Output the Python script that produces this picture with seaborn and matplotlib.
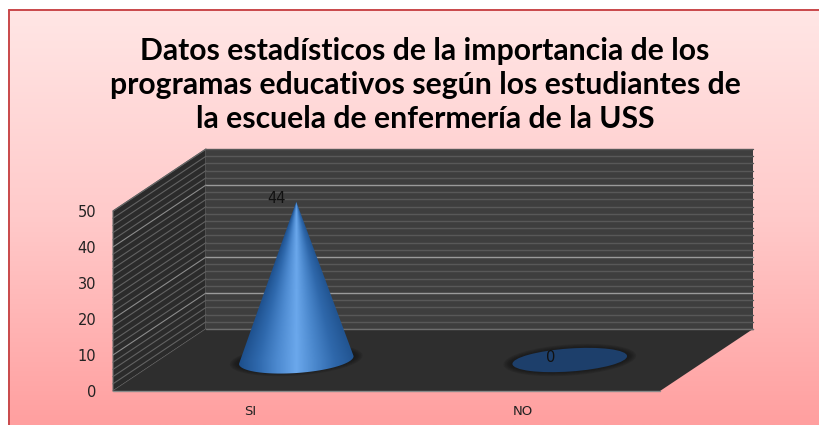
import numpy as np
import pandas as pd
import seaborn as sns
import matplotlib.pyplot as plt
from matplotlib.colors import LinearSegmentedColormap
from matplotlib.patches import Ellipse, Polygon

categorias = ["SI", "NO"]
valores = [44, 0]
ticks_y = [0, 10, 20, 30, 40, 50]
titulo = ("Datos estadísticos de la importancia de los\n"
          "programas educativos según los estudiantes de\n"
          "la escuela de enfermería de la USS")

W, H = 820, 425
# desplazamiento de profundidad del piso en pixeles
DX, DY = 93, 62

sns.set_style("white")
plt.rcParams['font.family'] = ['DejaVu Sans']

fig = plt.figure(figsize=(W / 100, H / 100), dpi=100, facecolor='white')

# capa de fondo en pixeles
bg = fig.add_axes([0, 0, 1, 1])
bg.set_xlim(0, W)
bg.set_ylim(H, 0)
bg.axis('off')

fondo = LinearSegmentedColormap.from_list("fondo", ["#ffe6e5", "#ffcaca", "#ff9f9f"])
bg.imshow(np.linspace(0, 1, 256).reshape(-1, 1), cmap=fondo, aspect='auto',
          extent=(10, W, H, 10), zorder=0)
bg.set_xlim(0, W)
bg.set_ylim(H, 0)
bg.plot([9.5, 9.5], [H, 10], color="#c9474a", lw=1.4, zorder=1)
bg.plot([9.5, W], [10, 10], color="#c9474a", lw=1.4, zorder=1)

# ejes del plano frontal
ax = fig.add_axes([113 / W, (H - 391) / H, 547 / W, 180 / H])
df = pd.DataFrame({"categoria": categorias, "valor": valores})
sns.barplot(data=df, x="categoria", y="valor", ax=ax, width=0.42, color="#3a76bd")
ax.set_xlim(-0.5, 1.5)
ax.set_ylim(0, 50)
ax.set_yticks(ticks_y)
ax.patch.set_alpha(0)
ax.set_xlabel("")
ax.set_ylabel("")
sns.despine(ax=ax, left=True, bottom=True)
ax.tick_params(axis='y', length=0, pad=12, labelsize=10.5, labelcolor="#222222")
ax.tick_params(axis='x', length=0, pad=10, labelsize=9.5, labelcolor="#222222")


def a_pixel(x, y):
    px, py = ax.transData.transform((x, y))
    return px * 100 / fig.dpi, H - py * 100 / fig.dpi


x0, y0 = a_pixel(-0.5, 0)
x1, _ = a_pixel(1.5, 0)
_, y50 = a_pixel(-0.5, 50)

# paredes y piso
bg.add_patch(Polygon([(x0, y50), (x0 + DX, y50 - DY), (x0 + DX, y0 - DY), (x0, y0)],
                     fc="#2b2b2b", ec="#6f6f6f", lw=0.8, zorder=2))
bg.add_patch(Polygon([(x0 + DX, y50 - DY), (x1 + DX, y50 - DY), (x1 + DX, y0 - DY), (x0 + DX, y0 - DY)],
                     fc="#3e3e3e", ec="none", zorder=2))
bg.add_patch(Polygon([(x0, y0), (x0 + DX, y0 - DY), (x1 + DX, y0 - DY), (x1, y0)],
                     fc="#2e2e2e", ec="none", zorder=3))
bg.plot([x0, x1], [y0, y0], color="#8a8a8a", lw=1, zorder=4)
bg.plot([x0 + DX, x1 + DX], [y0 - DY, y0 - DY], color="#6e6e6e", lw=1, zorder=4)

# lineas de la grilla, cada 2 unidades
for v in np.arange(0, 52, 2):
    _, yy = a_pixel(0, v)
    fuerte = v in (10, 20, 40)
    col = "#9a9a9a" if fuerte else "#585858"
    bg.plot([x0 + DX, x1 + DX], [yy - DY, yy - DY], color=col, lw=1, zorder=2.5)
    bg.plot([x0, x0 + DX], [yy, yy - DY], color="#8c8c8c" if fuerte else "#626262",
            lw=0.8, zorder=2.5)

# conos a partir de las barras de seaborn
tono = LinearSegmentedColormap.from_list(
    "cono", ["#1d4f8c", "#2f69ad", "#4d8ad0", "#6ba8ec", "#4a87cc", "#2f68ab", "#225592"])

for barra, valor in zip(ax.patches, valores):
    barra.set_visible(False)
    cx_data = barra.get_x() + barra.get_width() / 2
    px, py = a_pixel(cx_data, 0)
    cx, cy = px + DX / 2, py - DY / 2
    rx = barra.get_width() * (x1 - x0) / 4
    ry = 11
    ang = -4

    # sombra
    for k in range(6):
        bg.add_patch(Ellipse((cx, cy), 2 * rx + 18 - 3 * k, 2 * ry + 9 - 1.8 * k, angle=ang,
                             fc="#151515", ec="none", alpha=0.2, zorder=5))

    if valor == 0:
        bg.add_patch(Ellipse((cx, cy), 2 * rx, 2 * ry + 1, angle=ang, fc="#1d3f6b", ec="none", zorder=6))
    else:
        _, vy = a_pixel(cx_data, valor)
        alto = y0 - vy
        apice = (cx, cy - alto)
        t = np.radians(np.linspace(0, 180, 60))
        a = np.radians(ang)
        ex = rx * np.cos(t) * np.cos(a) - (ry + 2) * np.sin(t) * np.sin(a)
        ey = rx * np.cos(t) * np.sin(a) + (ry + 2) * np.sin(t) * np.cos(a)
        borde = np.column_stack([cx + ex, cy + ey])
        contorno = Polygon(np.vstack([[apice], borde]), closed=True, fc="none", ec="none",
                           transform=bg.transData, zorder=6)
        bg.add_patch(contorno)

        xs = np.linspace(cx - rx - 2, cx + rx + 2, 240)
        ys = np.linspace(cy - alto, cy + ry + 4, 300)
        gx, gy = np.meshgrid(xs, ys)
        frac = np.clip((gy - (cy - alto)) / alto, 0.004, 1)
        u = np.clip((gx - cx) / (rx * frac), -1, 1)
        img = bg.imshow((u + 1) / 2, cmap=tono, vmin=0, vmax=1, aspect='auto',
                        extent=(xs[0], xs[-1], ys[-1], ys[0]), zorder=6)
        img.set_clip_path(contorno)
        bg.set_xlim(0, W)
        bg.set_ylim(H, 0)

    # etiqueta de valor
    _, vy = a_pixel(cx_data, valor)
    bg.text(cx - 19.5, vy - DY / 2 - 3, str(valor), ha='center', va='center',
            fontsize=10.5, color="#111111", zorder=8)

bg.text(425, 85, titulo, ha='center', va='center', fontsize=21.7, fontweight='bold',
        family='Lato', color='black', linespacing=1.26, zorder=8)

fig.savefig("out.png", dpi=100)
